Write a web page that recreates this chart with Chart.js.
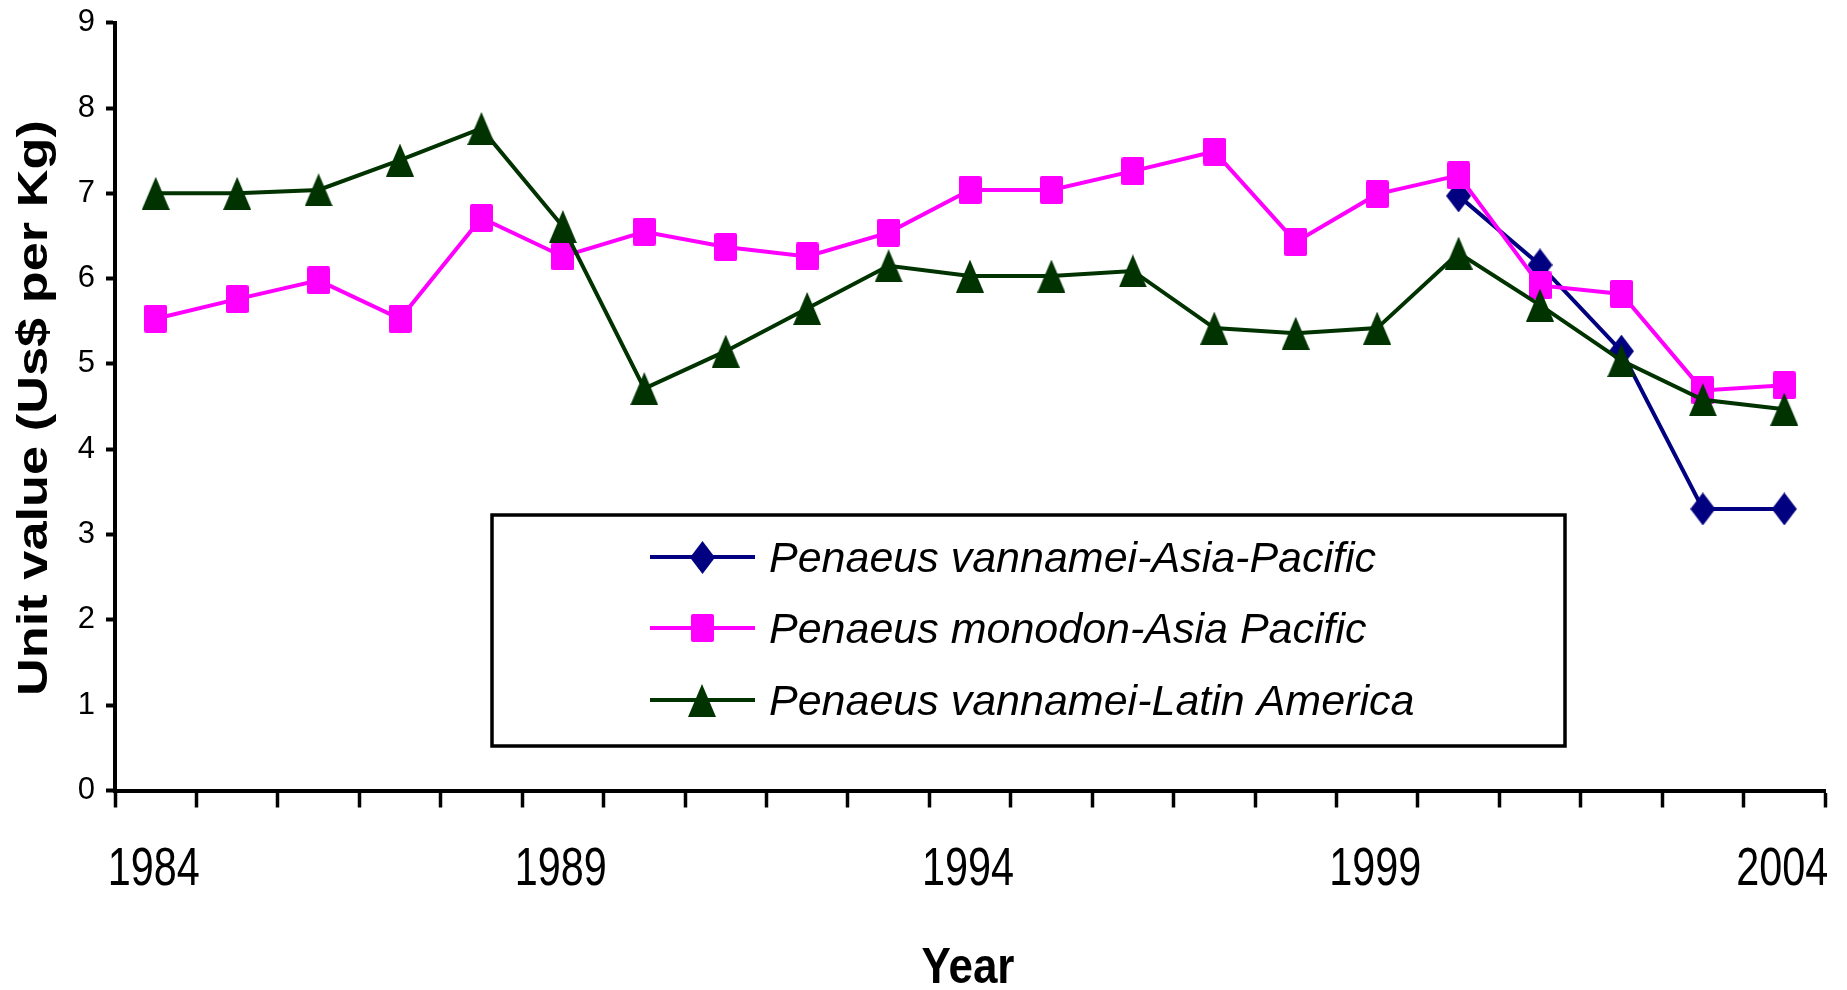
<!DOCTYPE html>
<html>
<head>
<meta charset="utf-8">
<script src="https://cdn.jsdelivr.net/npm/chart.js@4.4.1/dist/chart.umd.min.js"></script>
<style>
  html, body { margin: 0; padding: 0; background: #ffffff; }
  #wrap { width: 1847px; height: 990px; position: relative; }
</style>
</head>
<body>
<div id="wrap"><canvas id="chart"></canvas></div>
<script>
// ---- data ----
const years = [1984, 1985, 1986, 1987, 1988, 1989, 1990, 1991, 1992, 1993, 1994,
               1995, 1996, 1997, 1998, 1999, 2000, 2001, 2002, 2003, 2004];
const labelledYears = [1984, 1989, 1994, 1999, 2004];

const vannameiAsiaPacific = [null, null, null, null, null, null, null, null, null, null, null,
                             null, null, null, null, null, 6.97, 6.16, 5.15, 3.30, 3.30];
const monodonAsiaPacific = [5.53, 5.76, 5.98, 5.53, 6.71, 6.26, 6.55, 6.37, 6.26, 6.54, 7.04,
                            7.04, 7.26, 7.49, 6.43, 6.99, 7.21, 5.92, 5.82, 4.69, 4.75];
const vannameiLatinAmerica = [7.00, 7.00, 7.04, 7.39, 7.76, 6.61, 4.71, 5.15, 5.65, 6.15, 6.03,
                              6.03, 6.09, 5.42, 5.36, 5.42, 6.30, 5.69, 5.04, 4.58, 4.47];

const seriesNames = ['Penaeus vannamei-Asia-Pacific',
                     'Penaeus monodon-Asia Pacific',
                     'Penaeus vannamei-Latin America'];
const yMin = 0, yMax = 9, yStep = 1;

const xTitle = 'Year';
const yTitle = 'Unit value (Us$ per Kg)';

// ---- styling ----
const NAVY = '#000080';
const MAGENTA = '#ff00ff';
const DKGREEN = '#003300';
const FONT = '"Liberation Sans", Arial, Helvetica, sans-serif';

// Marker glyphs (slightly taller than wide)
function makeMarker(shape, w, h, color) {
  const c = document.createElement('canvas');
  c.width = w; c.height = h;
  const g = c.getContext('2d');
  g.fillStyle = color;
  g.beginPath();
  if (shape === 'diamond') {
    g.moveTo(w / 2, 0); g.lineTo(w, h / 2); g.lineTo(w / 2, h); g.lineTo(0, h / 2);
  } else if (shape === 'square') {
    const r = 2;
    g.moveTo(r, 0); g.lineTo(w - r, 0); g.quadraticCurveTo(w, 0, w, r);
    g.lineTo(w, h - r); g.quadraticCurveTo(w, h, w - r, h);
    g.lineTo(r, h); g.quadraticCurveTo(0, h, 0, h - r);
    g.lineTo(0, r); g.quadraticCurveTo(0, 0, r, 0);
  } else {
    g.moveTo(w / 2, 0); g.lineTo(w, h); g.lineTo(0, h);
  }
  g.closePath();
  g.fill();
  return c;
}
const diamondMark = makeMarker('diamond', 25, 33, NAVY);
const squareMark = makeMarker('square', 23, 28, MAGENTA);
const triangleMark = makeMarker('triangle', 28, 33, DKGREEN);

const markers = [diamondMark, squareMark, triangleMark];
const colors = [NAVY, MAGENTA, DKGREEN];

// Axis labels, axis titles and the boxed legend
const textPlugin = {
  id: 'chartText',
  afterDraw(chart) {
    const ctx = chart.ctx;
    const xs = chart.scales.x;
    const area = chart.chartArea;
    ctx.save();
    ctx.fillStyle = '#000';

    // year labels on the category axis (condensed face)
    ctx.font = '53px ' + FONT;
    ctx.textAlign = 'center';
    ctx.textBaseline = 'alphabetic';
    years.forEach((yr, i) => {
      if (!labelledYears.includes(yr)) return;
      const px = xs.getPixelForValue(i);
      ctx.save();
      ctx.translate(px - 2, 885);
      ctx.scale(0.78, 1);
      ctx.fillText(String(yr), 0, 0);
      ctx.restore();
    });

    // x title
    ctx.font = 'bold 50px ' + FONT;
    ctx.save();
    ctx.translate((area.left + area.right) / 2 - 2, 983);
    ctx.scale(0.88, 1);
    ctx.fillText(xTitle, 0, 0);
    ctx.restore();

    // y title (rotated, elongated along its baseline)
    ctx.font = 'bold 42px ' + FONT;
    const tw = ctx.measureText(yTitle).width;
    ctx.save();
    ctx.translate(47, 408);
    ctx.rotate(-Math.PI / 2);
    ctx.scale(576 / tw, 1);
    ctx.fillText(yTitle, 0, 0);
    ctx.restore();

    // legend box
    const bx = 492, by = 515, bw = 1073, bh = 231;
    ctx.fillStyle = '#fff';
    ctx.fillRect(bx, by, bw, bh);
    ctx.strokeStyle = '#000';
    ctx.lineWidth = 3.5;
    ctx.strokeRect(bx, by, bw, bh);

    const rows = [557, 628, 700];
    ctx.font = 'italic 43px ' + FONT;
    ctx.textAlign = 'left';
    ctx.textBaseline = 'alphabetic';
    rows.forEach((ry, i) => {
      ctx.strokeStyle = colors[i];
      ctx.lineWidth = 4;
      ctx.beginPath();
      ctx.moveTo(650, ry);
      ctx.lineTo(755, ry);
      ctx.stroke();
      const m = markers[i];
      ctx.drawImage(m, Math.round(702 - m.width / 2), Math.round(ry - m.height / 2));
      ctx.fillStyle = '#000';
      ctx.fillText(seriesNames[i], 769, ry + 15);
    });
    ctx.restore();
  }
};

const chart = new Chart(document.getElementById('chart'), {
  type: 'line',
  data: {
    labels: years.map(String),
    datasets: [
      {
        label: seriesNames[0],
        data: vannameiAsiaPacific,
        borderColor: NAVY,
        backgroundColor: NAVY,
        borderWidth: 4,
        pointStyle: diamondMark,
        pointRadius: 12,
        pointHoverRadius: 12,
        tension: 0,
        spanGaps: false,
        order: 3
      },
      {
        label: seriesNames[1],
        data: monodonAsiaPacific,
        borderColor: MAGENTA,
        backgroundColor: MAGENTA,
        borderWidth: 4,
        pointStyle: squareMark,
        pointRadius: 12,
        pointHoverRadius: 12,
        tension: 0,
        order: 2
      },
      {
        label: seriesNames[2],
        data: vannameiLatinAmerica,
        borderColor: DKGREEN,
        backgroundColor: DKGREEN,
        borderWidth: 4,
        pointStyle: triangleMark,
        pointRadius: 12,
        pointHoverRadius: 12,
        tension: 0,
        order: 1
      }
    ]
  },
  options: {
    responsive: true,
    maintainAspectRatio: false,
    animation: false,
    devicePixelRatio: 1,
    events: [],
    layout: { padding: { left: 0, right: 22, top: 22.7, bottom: 0 } },
    plugins: {
      legend: { display: false },
      tooltip: { enabled: false },
      title: { display: false }
    },
    scales: {
      x: {
        type: 'category',
        offset: true,
        grid: {
          offset: true,
          drawOnChartArea: false,
          drawTicks: true,
          tickLength: 17,
          tickWidth: 3.5,
          tickColor: '#000',
          color: '#000'
        },
        border: { display: true, color: '#000', width: 4 },
        ticks: { display: false, autoSkip: false },
        afterFit(scale) { scale.height = 199.5; }
      },
      y: {
        min: yMin,
        max: yMax,
        grid: {
          drawOnChartArea: false,
          drawTicks: true,
          tickLength: 9,
          tickWidth: 4,
          tickColor: '#000',
          color: '#000'
        },
        border: { display: true, color: '#000', width: 4 },
        ticks: {
          stepSize: yStep,
          color: '#000',
          padding: 11,
          font: { family: FONT, size: 31 }
        },
        afterFit(scale) {
          scale.width = 115;
          scale.paddingTop = 0;
          scale.paddingBottom = 0;
        }
      }
    }
  },
  plugins: [textPlugin]
});
</script>
</body>
</html>
